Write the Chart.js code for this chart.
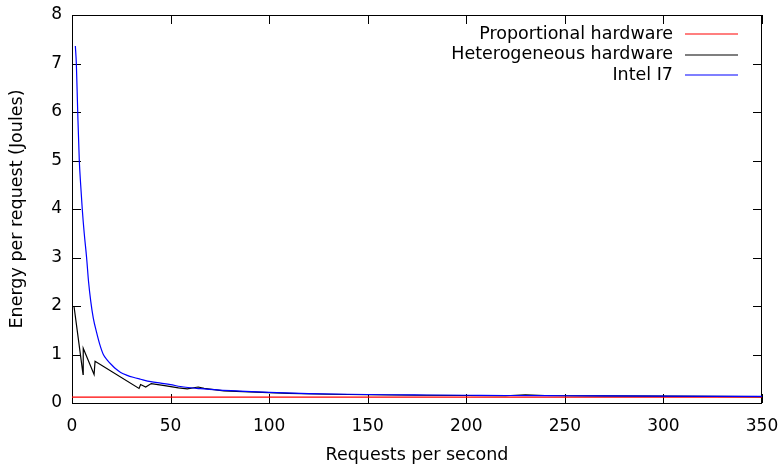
<!DOCTYPE html>
<html>
<head>
<meta charset="utf-8">
<script src="https://cdn.jsdelivr.net/npm/chart.js@4.4.1/dist/chart.umd.min.js"></script>
<style>
html, body { margin: 0; padding: 0; background: #fff; }
</style>
</head>
<body>
<canvas id="energy" width="782" height="466"></canvas>
<script>
// values
var proportionalRate = [0, 350];
var proportionalEnergy = [0.12, 0.12];

var heteroRate = [1, 5.6, 5.7, 11.2, 11.7, 34, 34.8, 37.4, 40.2, 47, 54, 58.5, 64, 67, 77, 90, 110, 130, 150, 175, 200, 220, 230, 240, 270, 300, 350];
var heteroEnergy = [2.0, 0.59, 1.13, 0.59, 0.86, 0.30, 0.38, 0.33, 0.40, 0.36, 0.31, 0.29, 0.33, 0.30, 0.25, 0.23, 0.20, 0.18, 0.17, 0.16, 0.155, 0.15, 0.17, 0.155, 0.145, 0.14, 0.13];

var intelRate = [1.7, 2.2, 2.9, 3.7, 4.4, 5.2, 6.2, 7.4, 8.4, 9.5, 10.8, 12.5, 14, 15.9, 18, 20, 22, 24.7, 28, 31, 34.8, 40, 45, 50, 55, 65, 75, 85, 100, 120, 140, 160, 180, 200, 220, 250, 300, 350];
var intelEnergy = [7.36, 7.0, 6.0, 5.0, 4.5, 4.0, 3.5, 3.0, 2.5, 2.1, 1.75, 1.45, 1.22, 1.0, 0.88, 0.79, 0.71, 0.63, 0.57, 0.53, 0.49, 0.44, 0.41, 0.38, 0.34, 0.295, 0.265, 0.245, 0.22, 0.195, 0.18, 0.17, 0.165, 0.16, 0.155, 0.15, 0.14, 0.135];

var labels = ['Proportional hardware', 'Heterogeneous hardware', 'Intel I7'];
var colors = ['#ff0000', '#000000', '#0000ff'];

function pts(xs, ys) {
    return xs.map(function (v, i) { return {x: v, y: ys[i]}; });
}

var font = "'DejaVu Sans', sans-serif";

// gnuplot style frame with inward ticks on all four sides
var frame = {
    id: 'frame',
    beforeDatasetsDraw: function (chart) {
        var ctx = chart.ctx, a = chart.chartArea;
        var x = chart.scales.x, y = chart.scales.y;
        ctx.save();
        ctx.strokeStyle = '#000';
        ctx.lineWidth = 1;
        ctx.beginPath();
        x.ticks.forEach(function (t) {
            var px = Math.round(x.getPixelForValue(t.value)) + 0.5;
            ctx.moveTo(px, a.bottom); ctx.lineTo(px, a.bottom - 9);
            ctx.moveTo(px, a.top); ctx.lineTo(px, a.top + 9);
        });
        y.ticks.forEach(function (t) {
            var py = Math.round(y.getPixelForValue(t.value)) + 0.5;
            ctx.moveTo(a.left, py); ctx.lineTo(a.left + 9, py);
            ctx.moveTo(a.right, py); ctx.lineTo(a.right - 9, py);
        });
        ctx.stroke();
        ctx.strokeRect(Math.round(a.left) + 0.5, Math.round(a.top) + 0.5,
            Math.round(a.right - a.left) - 1, Math.round(a.bottom - a.top));
        ctx.restore();
    }
};

// legend inside plot, text right-aligned with sample line on the right
var keyBox = {
    id: 'keyBox',
    afterDraw: function (chart) {
        var ctx = chart.ctx;
        ctx.save();
        ctx.font = '17.5px ' + font;
        ctx.textAlign = 'right';
        ctx.textBaseline = 'middle';
        chart.data.datasets.forEach(function (ds, i) {
            var ry = 34 + i * 20.5;
            ctx.fillStyle = '#000';
            ctx.fillText(ds.label, 673, ry);
            ctx.strokeStyle = colors[i];
            ctx.lineWidth = 1.2;
            ctx.beginPath();
            ctx.moveTo(685, Math.round(ry));
            ctx.lineTo(738, Math.round(ry));
            ctx.stroke();
        });
        ctx.restore();
    }
};

var ctx = document.getElementById('energy').getContext('2d');
var myChart = new Chart(ctx, {
    type: 'scatter',
    data: {
        datasets: [
            {label: labels[0], data: pts(proportionalRate, proportionalEnergy), borderColor: colors[0], order: 2},
            {label: labels[1], data: pts(heteroRate, heteroEnergy), borderColor: colors[1], order: 1},
            {label: labels[2], data: pts(intelRate, intelEnergy), borderColor: colors[2], order: 0, cubicInterpolationMode: 'monotone'}
        ].map(function (d) {
            d.showLine = true; d.pointRadius = 0; d.borderWidth = 1.2;
            d.backgroundColor = d.borderColor;
            return d;
        })
    },
    options: {
        responsive: false,
        animation: false,
        devicePixelRatio: 1,
        layout: {padding: {left: 0, right: 20, top: 15, bottom: 0}},
        plugins: {legend: {display: false}, tooltip: {enabled: false}},
        scales: {
            x: {
                type: 'linear', min: 0, max: 350,
                grid: {display: false, drawTicks: false},
                border: {display: false},
                ticks: {stepSize: 50, color: '#000', padding: 13, maxRotation: 0, font: {family: font, size: 17}},
                title: {display: true, text: 'Requests per second', color: '#000', padding: {top: 0, bottom: 0}, font: {family: font, size: 17.5}},
                afterFit: function (s) {
                    s.height = 63;
                    s.paddingLeft = 0;
                    s.paddingRight = 0;
                }
            },
            y: {
                min: 0, max: 8,
                grid: {display: false, drawTicks: false},
                border: {display: false},
                ticks: {stepSize: 1, color: '#000', padding: 10, font: {family: font, size: 17, lineHeight: 1}},
                title: {display: true, text: 'Energy per request (Joules)', color: '#000', padding: {top: 7, bottom: 0}, font: {family: font, size: 17.5}},
                afterFit: function (s) {
                    s.width = 72;
                    s.paddingTop = 0;
                    s.paddingBottom = 0;
                }
            }
        }
    },
    plugins: [frame, keyBox]
});
</script>
</body>
</html>
